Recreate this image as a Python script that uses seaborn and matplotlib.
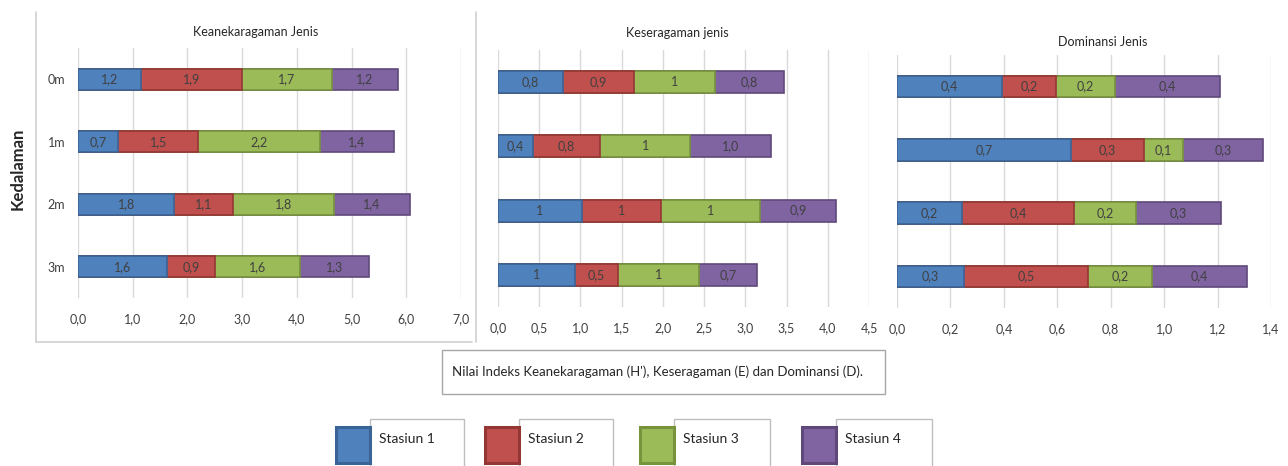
import numpy as np
import pandas as pd
import matplotlib
matplotlib.use("Agg")
import matplotlib.pyplot as plt
import seaborn as sns
from matplotlib.patches import Rectangle
from matplotlib.lines import Line2D

# ---------------- data ----------------
depths = ["0m", "1m", "2m", "3m"]
stations = ["Stasiun 1", "Stasiun 2", "Stasiun 3", "Stasiun 4"]

# Keanekaragaman (H')
h_s1 = [1.15, 0.73, 1.76, 1.62]
h_s2 = [1.84, 1.47, 1.07, 0.89]
h_s3 = [1.65, 2.22, 1.84, 1.55]
h_s4 = [1.20, 1.36, 1.39, 1.26]
h_lab_s1 = ["1,2", "0,7", "1,8", "1,6"]
h_lab_s2 = ["1,9", "1,5", "1,1", "0,9"]
h_lab_s3 = ["1,7", "2,2", "1,8", "1,6"]
h_lab_s4 = ["1,2", "1,4", "1,4", "1,3"]

# Keseragaman (E)
e_s1 = [0.79, 0.42, 1.02, 0.93]
e_s2 = [0.855, 0.82, 0.96, 0.53]
e_s3 = [0.99, 1.09, 1.20, 0.98]
e_s4 = [0.83, 0.98, 0.915, 0.70]
e_lab_s1 = ["0,8", "0,4", "1", "1"]
e_lab_s2 = ["0,9", "0,8", "1", "0,5"]
e_lab_s3 = ["1", "1", "1", "1"]
e_lab_s4 = ["0,8", "1,0", "0,9", "0,7"]

# Dominansi (D)
d_s1 = [0.393, 0.65, 0.243, 0.252]
d_s2 = [0.203, 0.275, 0.42, 0.464]
d_s3 = [0.22, 0.145, 0.232, 0.237]
d_s4 = [0.393, 0.30, 0.317, 0.356]
d_lab_s1 = ["0,4", "0,7", "0,2", "0,3"]
d_lab_s2 = ["0,2", "0,3", "0,4", "0,5"]
d_lab_s3 = ["0,2", "0,1", "0,2", "0,2"]
d_lab_s4 = ["0,4", "0,3", "0,3", "0,4"]

panel_titles = ["Keanekaragaman Jenis", "Keseragaman jenis", "Dominansi Jenis"]
ticks_h = [0, 1, 2, 3, 4, 5, 6, 7]
ticks_e = [0, 0.5, 1, 1.5, 2, 2.5, 3, 3.5, 4, 4.5]
ticks_d = [0, 0.2, 0.4, 0.6, 0.8, 1.0, 1.2, 1.4]
xlabel_text = "Nilai Indeks Keanekaragaman (H'), Keseragaman (E) dan Dominansi (D)."
ylabel_text = "Kedalaman"

# ---------------- style ----------------
sns.set_theme(style="white")
plt.rcParams["font.family"] = ["Lato", "DejaVu Sans"]

fills = ["#4F81BD", "#C0504D", "#9BBB59", "#8064A2"]
edges = ["#3A6495", "#943634", "#77933C", "#5F497A"]
txt_col = "#404040"

W, H = 1288, 466
fig = plt.figure(figsize=(W / 100, H / 100), dpi=100)
fig.patch.set_facecolor("white")


def fx(x):
    return x / W


def fy(y):
    return 1 - y / H


def add_axes_px(x0, x1, y0, y1):
    return fig.add_axes([fx(x0), fy(y1), fx(x1 - x0), (y1 - y0) / H])


panels = [
    dict(vals=[h_s1, h_s2, h_s3, h_s4], labs=[h_lab_s1, h_lab_s2, h_lab_s3, h_lab_s4],
         ticks=ticks_h, fmt="{:.1f}", box=(78, 461, 48, 298), xlim=(0, 7),
         title_xy=(256, 32), ylabels=True),
    dict(vals=[e_s1, e_s2, e_s3, e_s4], labs=[e_lab_s1, e_lab_s2, e_lab_s3, e_lab_s4],
         ticks=ticks_e, fmt="{:.1f}", box=(498, 869, 50, 307), xlim=(0, 4.5),
         title_xy=(677, 33), ylabels=False),
    dict(vals=[d_s1, d_s2, d_s3, d_s4], labs=[d_lab_s1, d_lab_s2, d_lab_s3, d_lab_s4],
         ticks=ticks_d, fmt="{:.1f}", box=(897, 1271, 55, 308), xlim=(0, 1.4),
         title_xy=(1103, 42), ylabels=False),
]

for p, title in zip(panels, panel_titles):
    x0, x1, y0, y1 = p["box"]
    ax = add_axes_px(x0, x1, y0, y1)
    arr = np.array(p["vals"], dtype=float)
    cum = np.cumsum(arr, axis=0)
    rows = []
    for si, st in enumerate(stations):
        for di, dp in enumerate(depths):
            rows.append(dict(station=st, depth=dp, cum=cum[si, di], val=arr[si, di]))
    df = pd.DataFrame(rows)
    # draw longest cumulative first so shorter ones sit on top
    for si in reversed(range(len(stations))):
        sub = df[df["station"] == stations[si]]
        sns.barplot(data=sub, x="cum", y="depth", order=depths, orient="h",
                    color=fills[si], saturation=1, width=0.34,
                    edgecolor=edges[si], linewidth=1.2, ax=ax, zorder=3)
    # labels
    for si in range(len(stations)):
        for di in range(len(depths)):
            mid = cum[si, di] - arr[si, di] / 2
            ax.text(mid, di, p["labs"][si][di], ha="center", va="center",
                    fontsize=9, color=txt_col, zorder=5)
    ax.set_xlim(*p["xlim"])
    ax.set_ylim(3.5, -0.5)
    ax.set_xticks(p["ticks"])
    ax.set_xticklabels([p["fmt"].format(t).replace(".", ",") for t in p["ticks"]],
                       fontsize=9, color=txt_col)
    ax.tick_params(axis="x", length=0, pad=11)
    ax.grid(axis="x", color="#D9D9D9", linewidth=1, zorder=0)
    ax.grid(axis="y", visible=False)
    ax.set_axisbelow(True)
    for s in ax.spines.values():
        s.set_visible(False)
    ax.set_xlabel("")
    ax.set_ylabel("")
    if p["ylabels"]:
        ax.tick_params(axis="y", length=0, pad=9, labelsize=9, labelcolor=txt_col)
    else:
        ax.set_yticklabels([])
        ax.tick_params(axis="y", length=0)
    ax.patch.set_alpha(0)
    tx, ty = p["title_xy"]
    fig.text(fx(tx), fy(ty), title, ha="center", va="center", fontsize=9, color="#262626")

# y label
fig.text(fx(18), fy(169), ylabel_text, rotation=90, ha="center", va="center",
         fontsize=12, fontweight="bold", color="#262626")

# frame lines (Excel chart borders)
frame_col = "#D0D0D0"
fig.add_artist(Line2D([fx(36), fx(36)], [fy(12), fy(342)], color=frame_col, lw=1.2))
fig.add_artist(Line2D([fx(36), fx(472)], [fy(342), fy(342)], color=frame_col, lw=1.2))
fig.add_artist(Line2D([fx(476), fx(476)], [fy(12), fy(342)], color=frame_col, lw=1.2))

# x-axis caption box
fig.add_artist(Rectangle((fx(442), fy(394)), fx(885 - 442), (394 - 350) / H,
                         transform=fig.transFigure, facecolor="white",
                         edgecolor="#A6A6A6", lw=1.0))
fig.text(fx(452), fy(372), xlabel_text, ha="left", va="center", fontsize=9.5, color="#262626")

# legend
sq_x = [336, 485, 640, 802]
box_r = [464, 613, 770, 932]
for i, st in enumerate(stations):
    x = sq_x[i]
    fig.add_artist(Rectangle((fx(x + 34), fy(470)), fx(box_r[i] - x - 34), (470 - 419) / H,
                             transform=fig.transFigure, facecolor="white",
                             edgecolor="#BFBFBF", lw=1.0))
    fig.add_artist(Rectangle((fx(x), fy(463)), fx(34), 36 / H,
                             transform=fig.transFigure, facecolor=fills[i],
                             edgecolor=edges[i], lw=2.2))
    fig.text(fx(x + 43), fy(439), st, ha="left", va="center", fontsize=10, color="#262626")

fig.savefig("out.png", dpi=100, facecolor="white")
